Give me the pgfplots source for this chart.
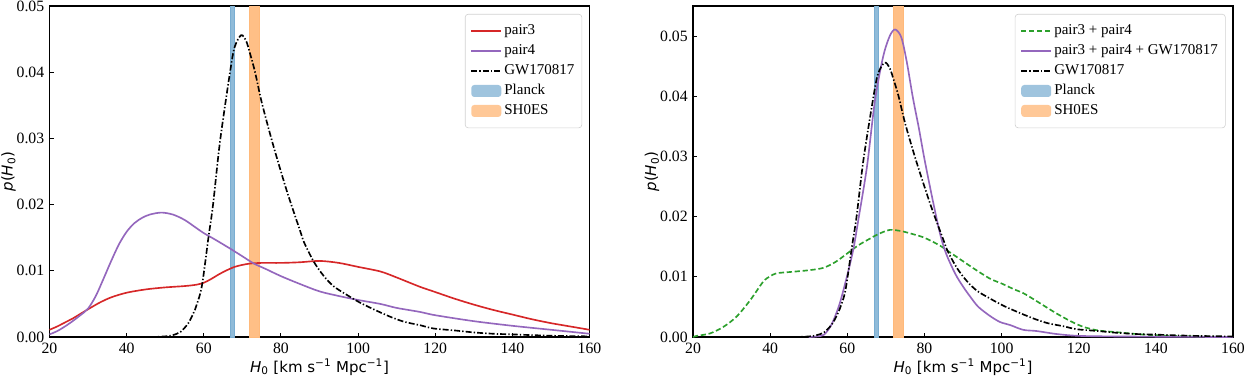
\documentclass[border=0pt]{standalone}
\usepackage{fontspec}
\setmainfont{Liberation Serif}
\setsansfont{DejaVu Sans}
\usepackage{pgfplots}
\pgfplotsset{compat=1.18}
\definecolor{tabblue}{HTML}{1F77B4}
\definecolor{taborange}{HTML}{FF7F0E}
\definecolor{tabred}{HTML}{D62728}
\definecolor{tabpurple}{HTML}{9467BD}
\definecolor{tabgreen}{HTML}{2CA02C}
\definecolor{planckfill}{HTML}{8FBBD9}
\definecolor{shoesfill}{HTML}{FFBF86}
\pgfplotsset{
  myaxis/.style={
    scale only axis, width=360pt, height=220.7pt,
    xmin=20, xmax=160, ymin=0,
    xtick={20,40,...,160},
    scaled y ticks=false,
    tick align=inside, tick pos=left,
    major tick length=2.7pt,
    every tick/.style={black, line width=0.6pt},
    axis line style={line width=0.9pt},
    /pgf/number format/assume math mode=true,
    yticklabel style={/pgf/number format/fixed, /pgf/number format/fixed zerofill, /pgf/number format/precision=2},
    tick label style={font=\fontsize{10.5}{12}\selectfont},
    xticklabel style={yshift=-0.3pt},
    label style={font=\fontsize{10}{12}\selectfont},
    xlabel={\textsf{\textit{H}\textsubscript{0} [km s\textsuperscript{−1} Mpc\textsuperscript{−1}]}},
    ylabel={\textsf{\textit{p}(\textit{H}\textsubscript{0})}},
    xlabel style={yshift=3pt},
    every axis y label/.style={at={(axis description cs:0,0.5)}, rotate=90, anchor=center, yshift=27.3pt},
    legend cell align=left,
    legend style={at={(1,1)}, anchor=north east, xshift=-4.9pt, yshift=-5.3pt,
      draw=black!18, rounded corners=2pt, fill=white, fill opacity=0.85, text opacity=1,
      font=\fontsize{10}{12}\selectfont, row sep=0.8pt,
      inner xsep=3.5pt, inner ysep=5pt,
      nodes={inner sep=1.5pt, text height=7.3pt, text depth=2.2pt}},
    legend image code/.code={\draw[#1] (0pt,0pt) -- (20pt,0pt);},
  },
  bandleg/.style={legend image code/.code={\fill[#1, draw=none] (0pt,-4pt) rectangle (20pt,4pt);}},
  dashdotk/.style={black, line width=1.1pt, dash pattern=on 4pt off 1.4pt on 0.9pt off 1.4pt},
}
\begin{document}
\begin{tikzpicture}
\begin{axis}[myaxis, ymax=0.05, ytick={0,0.01,...,0.05}, at={(0,0)}, anchor=south west]
\addplot[forget plot, fill=planckfill, draw=tabblue!60, line width=0.4pt] coordinates {(66.9,0) (66.9,0.06) (67.9,0.06) (67.9,0)} -- cycle;
\addplot[forget plot, fill=shoesfill, draw=taborange!55, line width=0.4pt] coordinates {(71.9,0) (71.9,0.06) (74.4,0.06) (74.4,0)} -- cycle;
\addplot[tabred, line width=1.1pt, smooth] coordinates {
(20,0.0011) (22,0.0016) (24,0.0022) (26,0.0028) (28,0.0035) (30,0.0042) (33,0.0052) (36,0.0060) (40,0.0067) (45,0.0072) (50,0.0075) (55,0.0077) (58,0.0079) (60,0.0082) (62,0.0088) (64,0.0095) (66,0.0101) (68,0.0106) (70,0.0109) (72,0.0111) (75,0.0112) (80,0.0112) (85,0.0113) (90,0.0115) (95,0.0112) (100,0.0106) (105.8,0.0099) (110,0.0090) (116,0.0076) (120,0.0068) (125,0.0058) (130,0.0049) (135,0.0041) (140,0.0034) (145,0.0027) (150,0.0021) (155,0.0016) (160,0.0011)};
\addlegendentry{pair3}
\addplot[tabpurple, line width=1.1pt, smooth] coordinates {
(20,0.0004) (22,0.0009) (24,0.0016) (26,0.0024) (28,0.0033) (30,0.0043) (32,0.0062) (34,0.0088) (36,0.0115) (38,0.0140) (40,0.0159) (42,0.0172) (44,0.0180) (46,0.0185) (49,0.0188) (52,0.0185) (55,0.0177) (58,0.0165) (60,0.0157) (63,0.0147) (67,0.0133) (70,0.0122) (73,0.0111) (76,0.0103) (80,0.0092) (85,0.0080) (90,0.0069) (95,0.0062) (100,0.0056) (105.8,0.0050) (110,0.0044) (116,0.0038) (120,0.0033) (130,0.0024) (140,0.0017) (150,0.0011) (160,0.0005)};
\addlegendentry{pair4}
\addplot[dashdotk, smooth] coordinates {
(46,0) (50,0.0001) (52,0.0003) (54,0.0008) (56,0.0021) (57.3,0.0036) (58,0.0046) (59.5,0.0077) (61.2,0.0150) (62.4,0.0200) (64.2,0.0295) (66.8,0.0400) (68,0.0438) (69.7,0.0456) (71,0.0447) (72,0.0428) (73.3,0.0400) (75,0.0355) (77.6,0.0298) (80,0.0250) (82,0.0212) (85,0.0160) (86,0.0143) (88.5,0.0114) (91,0.0093) (93.6,0.0077) (97,0.0064) (100.5,0.0052) (104,0.0042) (108.2,0.0031) (112,0.0023) (116,0.0018) (119.5,0.0013) (125,0.0010) (130,0.0007) (135,0.0005) (140,0.0004) (150,0.0002) (160,0.0001)};
\addlegendentry{GW170817}
\addlegendimage{bandleg, fill=planckfill}
\addlegendentry{Planck}
\addlegendimage{bandleg, fill=shoesfill}
\addlegendentry{SH0ES}
\end{axis}
\begin{axis}[myaxis, ymax=0.055, ytick={0,0.01,...,0.05}, at={(429pt,0)}, anchor=south west]
\addplot[forget plot, fill=planckfill, draw=tabblue!60, line width=0.4pt] coordinates {(66.9,0) (66.9,0.06) (68.1,0.06) (68.1,0)} -- cycle;
\addplot[forget plot, fill=shoesfill, draw=taborange!55, line width=0.4pt] coordinates {(72.0,0) (72.0,0.06) (74.4,0.06) (74.4,0)} -- cycle;
\addplot[tabgreen, line width=1.1pt, smooth, dash pattern=on 3.5pt off 1.8pt] coordinates {
(20,0) (21,0.0002) (24.4,0.0006) (27.9,0.0017) (31.3,0.0034) (34.8,0.0061) (38.2,0.0092) (40,0.0101) (41.7,0.0106) (45,0.0108) (50,0.0111) (53.8,0.0115) (57,0.0125) (60,0.0139) (63,0.0153) (66,0.0164) (68,0.0171) (71,0.0178) (74,0.0176) (77,0.0171) (80,0.0165) (84,0.0152) (87,0.0139) (90,0.0126) (93,0.0113) (97,0.0097) (100,0.0089) (103,0.0080) (105.6,0.0073) (108,0.0064) (111,0.0052) (114.3,0.0039) (118,0.0026) (121.2,0.0017) (125,0.0011) (130,0.0008) (135,0.0005) (140,0.0003) (150,0.0001) (160,0)};
\addlegendentry{pair3 + pair4}
\addplot[tabpurple, line width=1.1pt, smooth] coordinates {
(50,0) (52,0.0001) (54,0.0004) (56,0.0022) (58,0.0055) (60,0.0103) (61.6,0.0147) (63,0.0200) (65.1,0.0283) (67.2,0.0394) (69.3,0.0466) (71,0.0500) (72.4,0.0511) (74,0.0498) (75.4,0.0458) (77,0.0398) (78.5,0.0349) (80,0.0296) (82,0.0232) (84,0.0173) (85.6,0.0139) (88,0.0105) (90,0.0084) (92,0.0066) (94,0.0050) (97,0.0035) (99.6,0.0025) (102.2,0.0020) (105.6,0.0012) (109.1,0.0010) (114.3,0.0005) (120,0.0002) (130,0.0001) (160,0)};
\addlegendentry{pair3 + pair4 + GW170817}
\addplot[dashdotk, smooth] coordinates {
(46,0) (50,0.0001) (52,0.0003) (54,0.0008) (56,0.0021) (57.3,0.0036) (58,0.0046) (59.5,0.0077) (61.2,0.0150) (62.4,0.0200) (64.2,0.0295) (66.8,0.0400) (68,0.0438) (69.7,0.0456) (71,0.0447) (72,0.0428) (73.3,0.0400) (75,0.0355) (77.6,0.0298) (80,0.0250) (82,0.0212) (85,0.0160) (86,0.0143) (88.5,0.0114) (91,0.0093) (93.6,0.0077) (97,0.0064) (100.5,0.0052) (104,0.0042) (108.2,0.0031) (112,0.0023) (116,0.0018) (119.5,0.0013) (125,0.0010) (130,0.0007) (135,0.0005) (140,0.0004) (150,0.0002) (160,0.0001)};
\addlegendentry{GW170817}
\addlegendimage{bandleg, fill=planckfill}
\addlegendentry{Planck}
\addlegendimage{bandleg, fill=shoesfill}
\addlegendentry{SH0ES}
\end{axis}
\pgfresetboundingbox
\path (-33pt,-25.3pt) rectangle (797pt,224.7pt);
\end{tikzpicture}
\end{document}
